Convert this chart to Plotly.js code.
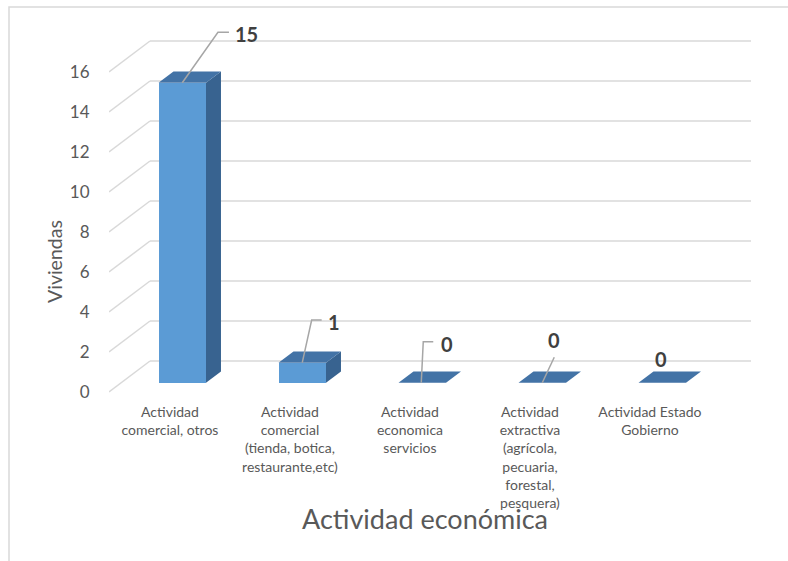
<!DOCTYPE html>
<html>
<head>
<meta charset="utf-8">
<script src="https://cdn.plot.ly/plotly-3.0.1.min.js"></script>
<style>html,body{margin:0;padding:0;background:#fff;}#chart{width:788px;height:561px;}</style>
</head>
<body>
<div id="chart"></div>
<script>
// ---- data ----
const categories = [
  "Actividad<br>comercial, otros",
  "Actividad<br>comercial<br>(tienda, botica,<br>restaurante,etc)",
  "Actividad<br>economica<br>servicios",
  "Actividad<br>extractiva<br>(agrícola,<br>pecuaria,<br>forestal,<br>pesquera)",
  "Actividad Estado<br>Gobierno"
];
const values = [15, 1, 0, 0, 0];
const yTicks = [0, 2, 4, 6, 8, 10, 12, 14, 16];
const yTickLabels = ["0", "2", "4", "6", "8", "10", "12", "14", "16"];
const yTitle = "Viviendas";
const xTitle = "Actividad económica";

// ---- geometry / style (pixel scale of the axes) ----
const PX_X = 120, PX_Y = 20;          // pixels per unit
const DX = 41 / PX_X, DY = 31 / PX_Y; // full depth of the 3D box
const F1 = 0.30, F2 = 0.665;          // bar depth (front / back) as fraction of depth
const BAR_W = 47.5 / PX_X;
const X_LEFT = -0.508, X_RIGHT_BACK = 4.842;
// label offsets (pixels) relative to the front-top centre of each bar
const labelCfg = [
  {lead: [[0, 0], [35.7, -50.4], [46.7, -50.4]], tx: 51, ty: -48.5, anchor: "left"},
  {lead: [[0, 0], [9.4, -42.7], [19.4, -42.7]], tx: 24, ty: -40.5, anchor: "left"},
  {lead: [[-1, 0], [1, -41], [11, -41]], tx: 17, ty: -38.5, anchor: "left"},
  {lead: [[0, 0], [12, -25.4]], tx: 12, ty: -42.5, anchor: "center"},
  {lead: [], tx: -1.3, ty: -23.3, anchor: "center"}
];

const idx = categories.map((_, i) => i);
const gridColor = "#D9D9D9";

// back wall gridlines + side diagonals
const shapes = [];
yTicks.forEach(v => {
  shapes.push({type: "line", xref: "x", yref: "y", layer: "below",
    x0: X_LEFT, y0: v, x1: X_LEFT + DX, y1: v + DY,
    line: {color: gridColor, width: 1.5}});
  shapes.push({type: "line", xref: "x", yref: "y", layer: "below",
    x0: X_LEFT + DX, y0: v + DY, x1: X_RIGHT_BACK, y1: v + DY,
    line: {color: gridColor, width: 1.5}});
});
// outer chart frame (pixels -> paper)
const L = 109, T = 22, W = 660, H = 380;
const px2paperX = p => (p - L) / W, px2paperY = p => (T + H - p) / H;
shapes.push({type: "rect", xref: "paper", yref: "paper", layer: "below",
  x0: px2paperX(9), x1: px2paperX(820), y0: px2paperY(600), y1: px2paperY(7),
  line: {color: gridColor, width: 1.5}, fillcolor: "rgba(0,0,0,0)"});

const baseY = F1 * DY;
const dd = F2 - F1;
const frontX = idx.map(i => i + F1 * DX);

// front faces
const frontTrace = {
  type: "bar", x: frontX, y: values, base: idx.map(() => baseY), width: BAR_W,
  marker: {color: "#5B9BD5", line: {width: 0}}, hoverinfo: "skip", showlegend: false
};
// top faces
const topX = [], topY = [];
idx.forEach(i => {
  const xl = frontX[i] - BAR_W / 2, xr = frontX[i] + BAR_W / 2, y = values[i] + baseY;
  topX.push(xl, xr, xr + dd * DX, xl + dd * DX, xl, null);
  topY.push(y, y, y + dd * DY, y + dd * DY, y, null);
});
const topTrace = {type: "scatter", mode: "lines", x: topX, y: topY, fill: "toself",
  fillcolor: "#4373A6", line: {width: 0, color: "#4373A6"}, hoverinfo: "skip", showlegend: false};
// side faces
const sideX = [], sideY = [];
idx.forEach(i => {
  if (values[i] <= 0) return;
  const xr = frontX[i] + BAR_W / 2, y = values[i] + baseY;
  sideX.push(xr, xr, xr + dd * DX, xr + dd * DX, xr, null);
  sideY.push(baseY, y, y + dd * DY, baseY + dd * DY, baseY, null);
});
const sideTrace = {type: "scatter", mode: "lines", x: sideX, y: sideY, fill: "toself",
  fillcolor: "#386390", line: {width: 0, color: "#386390"}, hoverinfo: "skip", showlegend: false};

// leader lines and data labels
const leadX = [], leadY = [];
const annotations = [];
idx.forEach(i => {
  const cx = frontX[i], cy = values[i] + baseY;
  const cfg = labelCfg[i];
  if (cfg.lead.length) {
    cfg.lead.forEach(p => { leadX.push(cx + p[0] / PX_X); leadY.push(cy - p[1] / PX_Y); });
    leadX.push(null); leadY.push(null);
  }
  annotations.push({x: cx + cfg.tx / PX_X, y: cy - cfg.ty / PX_Y, xref: "x", yref: "y",
    text: String(values[i]), showarrow: false, xanchor: cfg.anchor, yanchor: "middle",
    font: {family: "Lato, 'Open Sans', sans-serif", size: 20, color: "#404040", weight: "bold"}});
});
const leaderTrace = {type: "scatter", mode: "lines", x: leadX, y: leadY,
  line: {color: "#A6A6A6", width: 1.5}, hoverinfo: "skip", showlegend: false};

annotations.push({xref: "paper", yref: "paper", x: px2paperX(54), y: px2paperY(262),
  text: yTitle, textangle: -90, showarrow: false, xanchor: "center", yanchor: "middle",
  font: {family: "Lato, sans-serif", size: 19.5, color: "#595959"}});
annotations.push({xref: "paper", yref: "paper", x: px2paperX(425), y: px2paperY(518),
  text: xTitle, showarrow: false, xanchor: "center", yanchor: "middle",
  font: {family: "Lato, sans-serif", size: 27, color: "#595959"}});

const layout = {
  width: 788, height: 561,
  margin: {l: L, r: 788 - L - W, t: T, b: 561 - T - H, pad: 0},
  paper_bgcolor: "#fff", plot_bgcolor: "rgba(0,0,0,0)",
  font: {family: "Lato, sans-serif", color: "#595959"},
  xaxis: {range: [X_LEFT, X_LEFT + W / PX_X], tickmode: "array", tickvals: idx, ticktext: categories,
    showgrid: false, zeroline: false, showline: false, ticks: "", fixedrange: true,
    tickfont: {size: 14, color: "#595959"}, tickangle: 0},
  yaxis: {range: [-0.5, -0.5 + H / PX_Y], tickmode: "array", tickvals: yTicks, ticktext: yTickLabels,
    showgrid: false, zeroline: false, showline: false, ticks: "outside", ticklen: 15,
    tickcolor: "rgba(0,0,0,0)", fixedrange: true, tickfont: {size: 17, color: "#595959"}},
  shapes: shapes, annotations: annotations, showlegend: false, bargap: 0
};

Plotly.newPlot("chart", [frontTrace, sideTrace, topTrace, leaderTrace], layout, {displayModeBar: false, staticPlot: true});
</script>
</body>
</html>
